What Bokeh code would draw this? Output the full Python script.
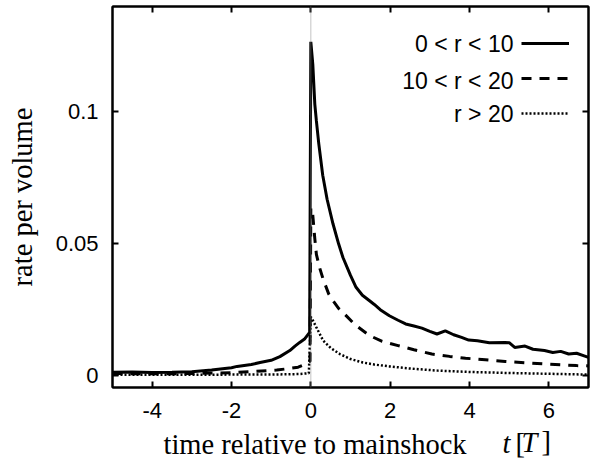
import numpy as np
from bokeh.plotting import figure
from bokeh.models import (Range1d, FixedTicker, LinearAxis, Label, Legend,
                          LegendItem, Span, CustomJSTickFormatter)
from bokeh.core.properties import value
from bokeh.embed import file_html
from bokeh.resources import INLINE

# ---------------- data ----------------
x_ticks = [-4, -2, 0, 2, 4, 6]
x_tick_labels = ["-4", "-2", "0", "2", "4", "6"]
y_ticks = [0, 0.05, 0.1]
y_tick_labels = ["0", "0.05", "0.1"]
series_names = ["0 < r < 10", "10 < r < 20", "r > 20"]
mainshock_t = 0.0

t_near = [-5, -4.5, -4, -3.5, -3, -2.5, -2.28, -2, -1.86, -1.5, -1.28, -1, -0.78,
          -0.53, -0.4, -0.28, -0.15, -0.03, 0.0, 0.05, 0.1, 0.14, 0.2, 0.3, 0.41,
          0.56, 0.7, 0.81, 1.0, 1.14, 1.3, 1.48, 1.6, 1.75, 1.98, 2.2, 2.39, 2.6,
          2.8, 3.0, 3.18, 3.39, 3.6, 3.8, 3.98, 4.2, 4.5, 4.89, 5.0, 5.14, 5.4,
          5.6, 5.89, 6.1, 6.3, 6.5, 6.7, 6.89, 7.0]
rate_near = [0.0013, 0.0014, 0.0012, 0.0013, 0.0015, 0.0021, 0.0025, 0.0030, 0.0035,
             0.0042, 0.0050, 0.0058, 0.0072, 0.0095, 0.0112, 0.0126, 0.0140, 0.0164,
             0.1266, 0.1180, 0.1030, 0.0966, 0.0880, 0.0760, 0.0669, 0.0575, 0.0500,
             0.0448, 0.0380, 0.0335, 0.0305, 0.0284, 0.0270, 0.0250, 0.0227, 0.0210,
             0.0196, 0.0188, 0.0180, 0.0168, 0.0158, 0.0170, 0.0155, 0.0145, 0.0135,
             0.0132, 0.0125, 0.0126, 0.0125, 0.0107, 0.0112, 0.0100, 0.0095, 0.0088,
             0.0092, 0.0082, 0.0085, 0.0075, 0.0069]

t_mid = [-5, -4, -3, -2, -1.5, -0.86, -0.6, -0.32, -0.1, -0.02, 0.0, 0.04, 0.1, 0.14,
         0.22, 0.31, 0.45, 0.56, 0.7, 0.81, 1.1, 1.48, 1.8, 2.2, 2.6, 3.05, 3.5,
         3.9, 4.4, 4.9, 5.4, 5.9, 6.3, 6.7, 7.0]
rate_mid = [0.0008, 0.0007, 0.0008, 0.0011, 0.0015, 0.0021, 0.0026, 0.0032, 0.0045,
            0.0055, 0.0636, 0.0625, 0.0520, 0.0460, 0.0410, 0.0366, 0.0310, 0.0284,
            0.0255, 0.0240, 0.0195, 0.0152, 0.0130, 0.0114, 0.0098, 0.0082, 0.0073,
            0.0066, 0.0060, 0.0054, 0.0049, 0.0044, 0.0041, 0.0038, 0.0037]

t_far = [-5, -4, -3, -2, -1, -0.3, -0.05, 0.0, 0.05, 0.14, 0.31, 0.5, 0.73, 1.0,
         1.31, 1.6, 1.98, 2.5, 3.2, 4.0, 5.0, 6.0, 7.0]
rate_far = [0.0003, 0.0003, 0.0003, 0.0004, 0.0004, 0.0006, 0.0009, 0.0223, 0.0210,
            0.0183, 0.0133, 0.0105, 0.0082, 0.0063, 0.0050, 0.0042, 0.0035, 0.0027,
            0.0019, 0.0014, 0.0010, 0.0007, 0.0004]

# ---------------- figure ----------------
p = figure(frame_width=476, frame_height=381,
           x_range=Range1d(-5, 7), y_range=Range1d(-0.0045, 0.14),
           x_axis_location=None, y_axis_location=None,
           output_backend="svg", toolbar_location=None,
           min_border_left=112, min_border_right=14,
           min_border_top=6, min_border_bottom=72,
           background_fill_color="white", border_fill_color="white")
p.xgrid.visible = False
p.ygrid.visible = False
p.outline_line_color = "black"
p.outline_line_width = 2

blank = CustomJSTickFormatter(code="return ''")
bottom_axis = LinearAxis(ticker=FixedTicker(ticks=x_ticks),
                         major_label_overrides={t: l for t, l in zip(x_ticks, x_tick_labels)})
left_axis = LinearAxis(ticker=FixedTicker(ticks=y_ticks),
                       major_label_overrides={t: l for t, l in zip(y_ticks, y_tick_labels)})
top_axis = LinearAxis(ticker=FixedTicker(ticks=x_ticks), formatter=blank)
right_axis = LinearAxis(ticker=FixedTicker(ticks=y_ticks), formatter=blank)
p.add_layout(bottom_axis, "below")
p.add_layout(left_axis, "left")
p.add_layout(top_axis, "above")
p.add_layout(right_axis, "right")

for ax in [bottom_axis, left_axis, top_axis, right_axis]:
    ax.axis_line_width = 2
    ax.axis_line_color = "black"
    ax.major_tick_line_width = 2
    ax.major_tick_line_color = "black"
    ax.major_tick_in = 6
    ax.major_tick_out = 0
    ax.minor_tick_line_color = None
    ax.major_label_text_font = "Liberation Sans"
    ax.major_label_text_font_size = "22px"
    ax.major_label_text_color = "black"
for ax in [top_axis, right_axis]:
    ax.major_label_standoff = 0
    ax.major_label_text_font_size = "0px"
left_axis.major_label_standoff = 14
bottom_axis.major_label_standoff = 15

serif = "Liberation Serif"
title_size = "28.5px"
left_axis.axis_label = "rate per volume"
left_axis.axis_label_text_font = serif
left_axis.axis_label_text_font_size = title_size
left_axis.axis_label_text_font_style = "normal"
left_axis.axis_label_text_color = "#000000"
left_axis.axis_label_standoff = 15

p.add_layout(Span(location=mainshock_t, dimension="height", line_color="#888888",
                  line_dash="1 1", line_width=1))

r1 = p.line(t_near, rate_near, line_color="black", line_width=3)
r2 = p.line(t_mid, rate_mid, line_color="black", line_width=3, line_dash="10 8")
r3 = p.line(t_far, rate_far, line_color="black", line_width=2.5, line_dash="2 2")

legend = Legend(items=[LegendItem(label=value(""), renderers=[r]) for r in (r1, r2, r3)],
                location=(409, 264), padding=0, margin=0, spacing=15,
                glyph_width=48, glyph_height=20, label_height=20, label_width=0,
                label_standoff=0, label_text_font_size="1px",
                border_line_color=None, background_fill_alpha=0)
p.add_layout(legend, "center")

label_font = "Liberation Sans"
for name, yy in zip(series_names, [344, 307, 274]):
    p.add_layout(Label(x=401, y=yy, x_units="screen", y_units="screen", text=name,
                       text_font=label_font, text_font_size="23px",
                       text_align="right", text_baseline="middle", text_color="black"))

# x-axis title pieces; each side-panel label gets its own stacked panel,
# so every further piece is raised by one panel height
panel_h = 31.7
pieces = [("time relative to mainshock", "normal", 51),
          ("t", "italic", 390),
          ("[", "normal", 403),
          ("T", "italic", 409),
          ("]", "normal", 429)]
for k, (txt, style, xx) in enumerate(pieces):
    p.add_layout(Label(x=xx, y=7 + k * panel_h, x_units="screen", y_units="screen",
                       text=txt, text_font=serif, text_font_style=style,
                       text_font_size=title_size, text_align="left",
                       text_baseline="alphabetic", text_color="black"), "below")

open("out.html", "w").write(file_html(p, INLINE))
